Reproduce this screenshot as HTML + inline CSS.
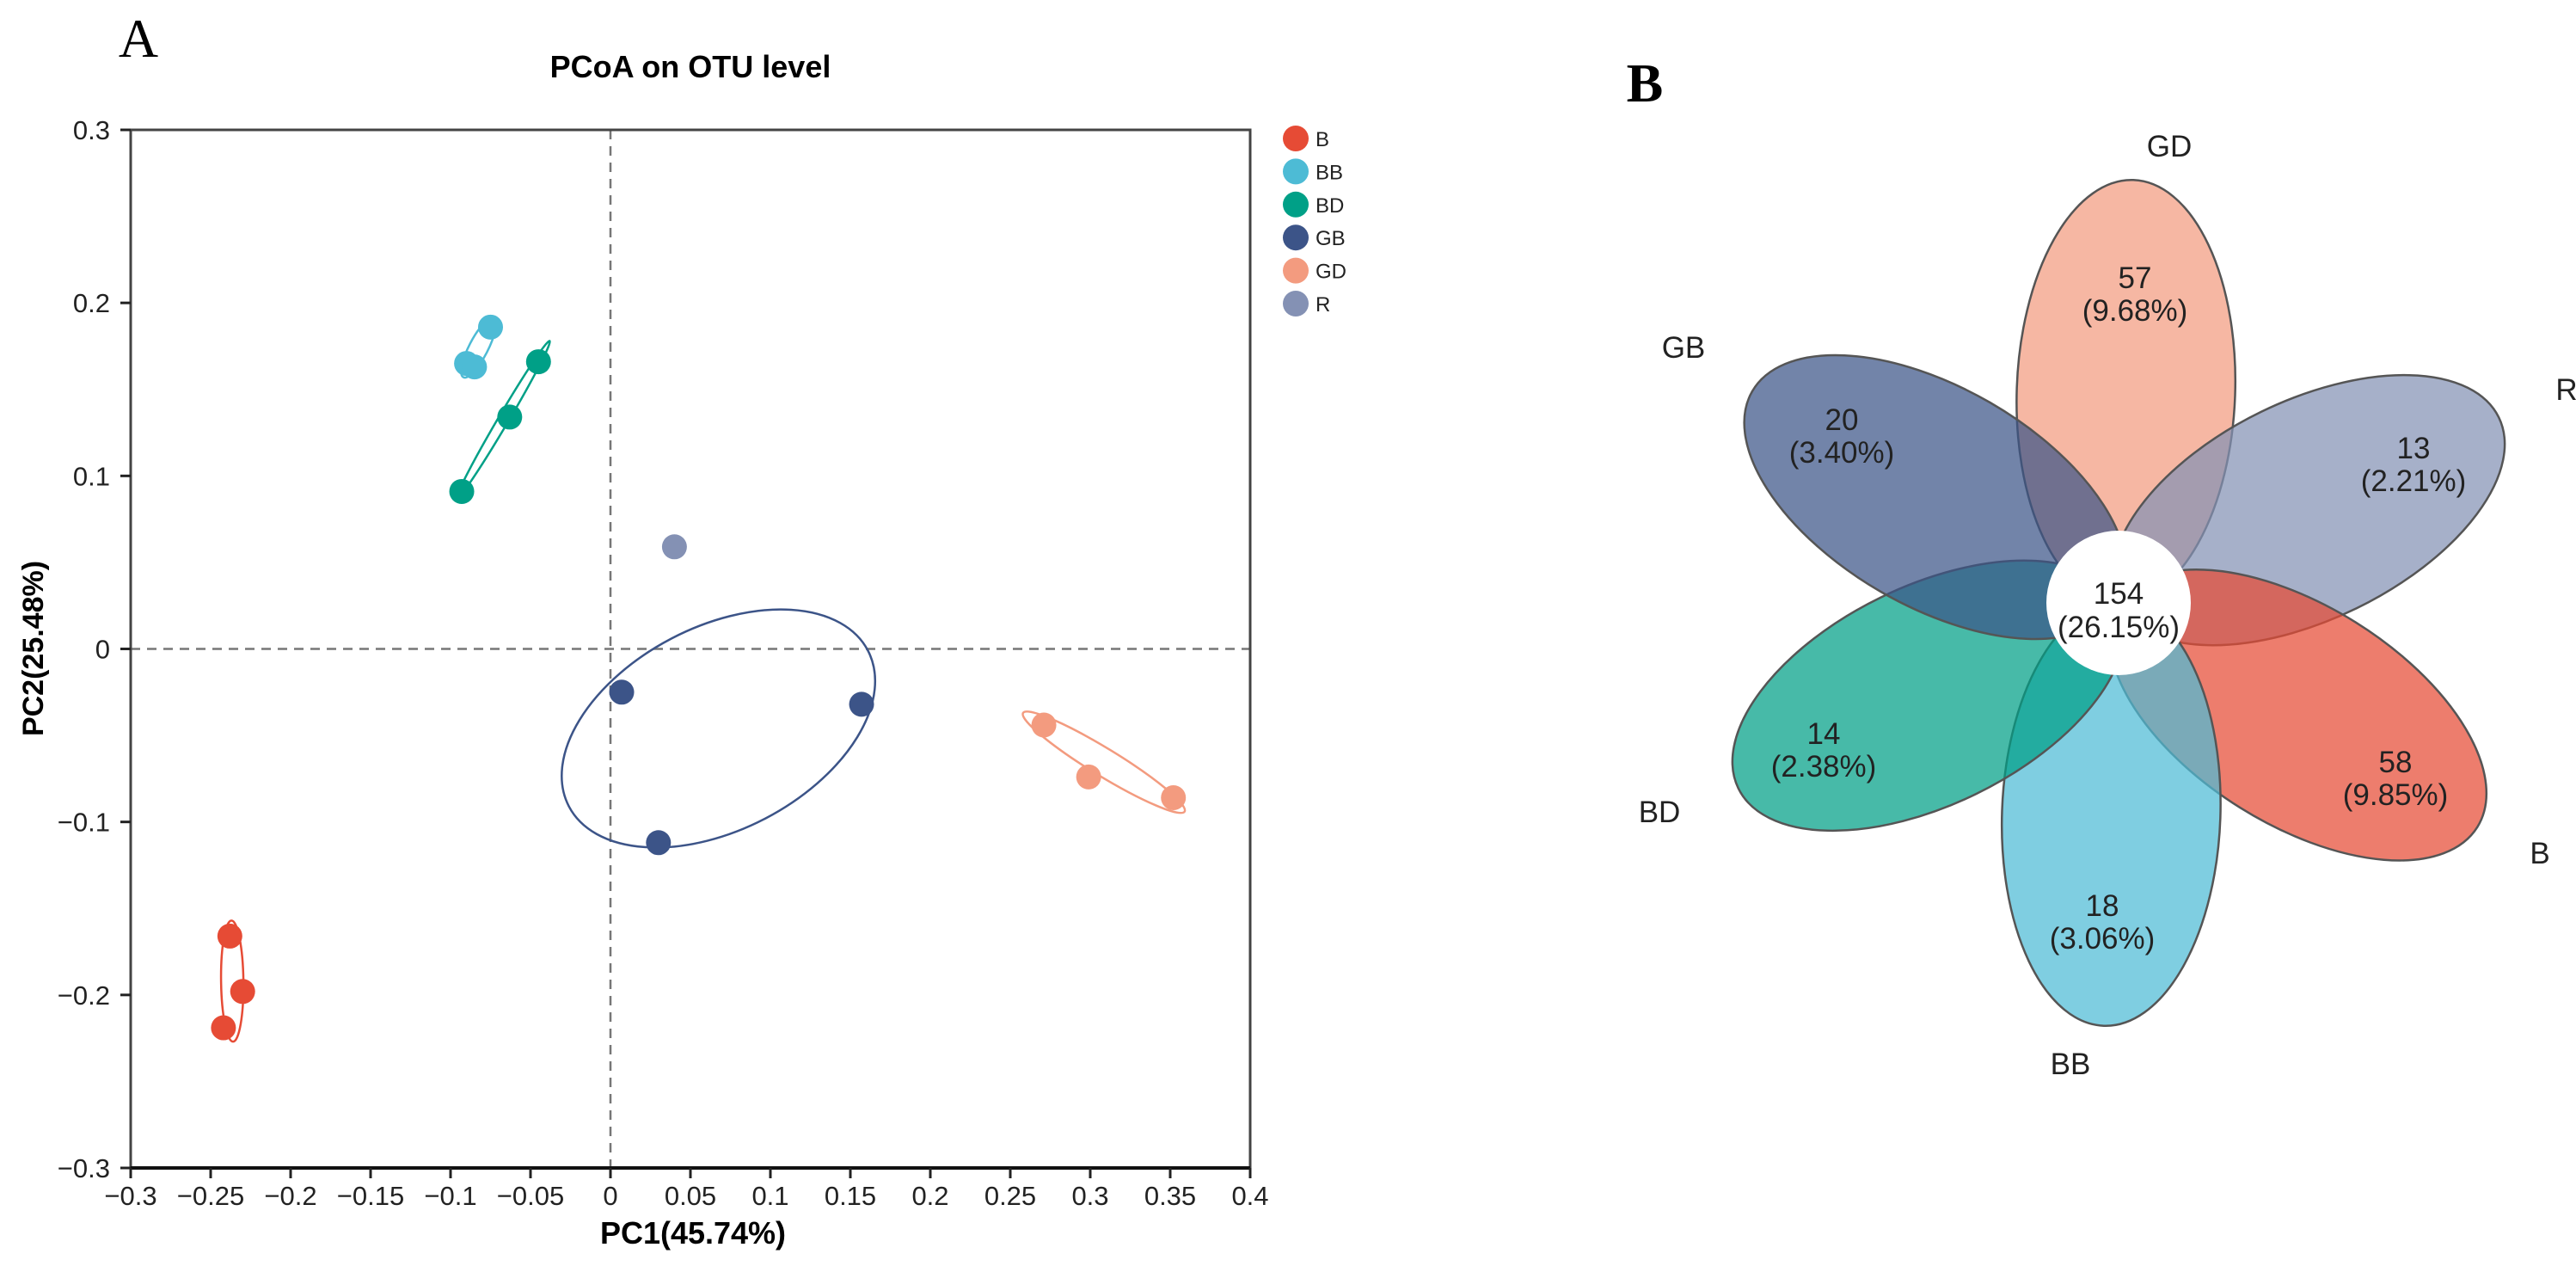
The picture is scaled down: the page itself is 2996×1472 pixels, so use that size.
<!DOCTYPE html>
<html><head><meta charset="utf-8"><style>
html,body{margin:0;padding:0;background:#fff;}
svg{display:block;}
text{font-family:"Liberation Sans",sans-serif;}
</style></head><body>
<svg id="fig" width="2996" height="1472" viewBox="0 0 2996 1472" xmlns="http://www.w3.org/2000/svg">
<text x="161" y="66" font-size="64" text-anchor="middle" style="font-family:'Liberation Serif',serif">A</text>
<text x="1913" y="118" font-size="64" text-anchor="middle" style="font-family:'Liberation Serif',serif;font-weight:bold">B</text>
<text x="803" y="90" font-size="36" font-weight="bold" text-anchor="middle">PCoA on OTU level</text>
<g id="plot"></g>
<g id="legend"></g>
<g id="venn"></g>
</svg>
<script>
const groups=["B","BB","BD","GB","GD","R"];
const colors=["#e64b35","#4dbbd5","#00a087","#3c5488","#f39b7f","#8491b4"];
const ptsX_B=[-0.238,-0.230,-0.242], ptsY_B=[-0.166,-0.198,-0.219];
const ptsX_BB=[-0.075,-0.090,-0.085], ptsY_BB=[0.186,0.165,0.163];
const ptsX_BD=[-0.045,-0.063,-0.093], ptsY_BD=[0.166,0.134,0.091];
const ptsX_GB=[0.007,0.157,0.030], ptsY_GB=[-0.025,-0.032,-0.112];
const ptsX_GD=[0.271,0.299,0.352], ptsY_GD=[-0.044,-0.074,-0.086];
const ptsX_R=[0.040], ptsY_R=[0.059];
// ellipse major-axis endpoints (data units)
const ellB=[-0.237,-0.157,-0.236,-0.227], ellBB=[-0.073,0.191,-0.092,0.157];
const ellBD=[-0.038,0.178,-0.096,0.087], ellGB=[-0.026,-0.091,0.161,-0.001];
const ellGD=[0.258,-0.037,0.359,-0.094];
const ellWidth=[13,11,6,118,16];
const xTicks=[-0.3,-0.25,-0.2,-0.15,-0.1,-0.05,0,0.05,0.1,0.15,0.2,0.25,0.3,0.35,0.4];
const xTickLabels=["−0.3","−0.25","−0.2","−0.15","−0.1","−0.05","0","0.05","0.1","0.15","0.2","0.25","0.3","0.35","0.4"];
const yTicks=[0.3,0.2,0.1,0,-0.1,-0.2,-0.3];
const yTickLabels=["0.3","0.2","0.1","0","−0.1","−0.2","−0.3"];
// venn
const vennCounts=["57","13","58","18","14","20"];
const vennPcts=["(9.68%)","(2.21%)","(9.85%)","(3.06%)","(2.38%)","(3.40%)"];
const vennNames=["GD","R","B","BB","BD","GB"];
const coreCount="154", corePct="(26.15%)";

const NS="http://www.w3.org/2000/svg";
const L=152,R=1454,T=151,B=1358;
const xs=v=>L+(v+0.3)/0.7*(R-L);
const ys=v=>B-(v+0.3)/0.6*(B-T);
function mk(tag,attrs,parent,txt){const e=document.createElementNS(NS,tag);for(const k in attrs)e.setAttribute(k,attrs[k]);if(txt!==undefined)e.textContent=txt;parent.appendChild(e);return e;}
const plot=document.getElementById('plot');
let e=mk('line',{x1:xs(0),x2:xs(0),y1:T,y2:B,stroke:'#777','stroke-width':2.5,'stroke-dasharray':'11 8'},plot);


e=mk('line',{x1:L,x2:R,y1:ys(0),y2:ys(0),stroke:'#777','stroke-width':2.5,'stroke-dasharray':'11 8'},plot);


e=mk('rect',{x:L,y:T,width:R-L,height:B-T,fill:'none',stroke:'#444','stroke-width':3},plot);


e=mk('line',{x1:L,x2:R,y1:B,y2:B,stroke:'#111','stroke-width':4},plot);


xTicks.forEach((v,i)=>{
 const t=mk('line',{x1:xs(v),x2:xs(v),y1:B,y2:B+12,stroke:'#222','stroke-width':3},plot);
 
 
 const l=mk('text',{x:xs(v),y:1401,'font-size':31,'text-anchor':'middle',style:"font-family:'Liberation Sans Narrow','Liberation Sans',sans-serif",fill:'#222'},plot,xTickLabels[i]);
 
 
});
yTicks.forEach((v,i)=>{
 const t=mk('line',{x1:L-12,x2:L,y1:ys(v),y2:ys(v),stroke:'#222','stroke-width':3},plot);
 
 
 const l=mk('text',{x:128,y:ys(v)+11,'font-size':31,'text-anchor':'end',style:"font-family:'Liberation Sans Narrow','Liberation Sans',sans-serif",fill:'#222'},plot,yTickLabels[i]);
 
 
});
e=mk('text',{x:806,y:1446,'font-size':36,'font-weight':'bold','text-anchor':'middle'},plot,'PC1(45.74%)');


e=mk('text',{x:0,y:0,'font-size':34,'font-weight':'bold','text-anchor':'middle',transform:'translate(50,754) rotate(-90)'},plot,'PC2(25.48%)');


const ells=[ellB,ellBB,ellBD,ellGB,ellGD];
ells.forEach((a,i)=>{
 const x1=xs(a[0]),y1=ys(a[1]),x2=xs(a[2]),y2=ys(a[3]);
 const cx=(x1+x2)/2,cy=(y1+y2)/2,rx=Math.hypot(x2-x1,y2-y1)/2;
 const ang=Math.atan2(y2-y1,x2-x1)*180/Math.PI;
 const el=mk('ellipse',{cx:cx,cy:cy,rx:rx,ry:ellWidth[i],fill:'none',stroke:colors[i],'stroke-width':2.5,transform:`rotate(${ang} ${cx} ${cy})`},plot);
 
 
});
const PX=[ptsX_B,ptsX_BB,ptsX_BD,ptsX_GB,ptsX_GD,ptsX_R],PY=[ptsY_B,ptsY_BB,ptsY_BD,ptsY_GB,ptsY_GD,ptsY_R];
PX.forEach((arr,g)=>arr.forEach((v,j)=>{
 const c=mk('circle',{cx:xs(v),cy:ys(PY[g][j]),r:14.5,fill:colors[g]},plot);
 
 
}));
const lg=document.getElementById('legend');
groups.forEach((g,i)=>{
 const c=mk('circle',{cx:1507,cy:161+i*38.4,r:15,fill:colors[i]},lg);
 
 
 const t=mk('text',{x:1530,y:161+i*38.4+9,'font-size':24,fill:'#222'},lg,g);
 
 
});
const vg=document.getElementById('venn');
const VC=[2464,701];
const petalAng=[-88,-26,32,92,154,210];
const petalCol=["#f39b7f","#8491b4","#e64b35","#4dbbd5","#00a087","#3c5488"];
const cntPos=[[2483,323],[2807,521],[2786,886],[2445,1053],[2121,853],[2142,488]];
const namePos=[[2523,170],[2985,453],[2954,992],[2408,1237],[1930,944],[1958,404]];
petalAng.forEach((a,i)=>{
 const r=a*Math.PI/180,cx=VC[0]+246*Math.cos(r),cy=VC[1]+246*Math.sin(r);
 const p=mk('ellipse',{cx:cx,cy:cy,rx:246,ry:127,fill:petalCol[i],'fill-opacity':0.72,stroke:'#555','stroke-width':2.5,transform:`rotate(${a} ${cx} ${cy})`},vg);
 
 
});
e=mk('circle',{cx:VC[0],cy:VC[1],r:84,fill:'#fff'},vg);


vennNames.forEach((n,i)=>{
 let t=mk('text',{x:cntPos[i][0],y:cntPos[i][1]+12,'font-size':35,'text-anchor':'middle',fill:'#222'},vg,vennCounts[i]);
 
 
 t=mk('text',{x:cntPos[i][0],y:cntPos[i][1]+50,'font-size':35,'text-anchor':'middle',fill:'#222'},vg,vennPcts[i]);
 
 
 t=mk('text',{x:namePos[i][0],y:namePos[i][1]+12,'font-size':35,'text-anchor':'middle',fill:'#222'},vg,n);
 
 
});
e=mk('text',{x:VC[0],y:702,'font-size':35,'text-anchor':'middle',fill:'#222'},vg,coreCount);


e=mk('text',{x:VC[0],y:741,'font-size':35,'text-anchor':'middle',fill:'#222'},vg,corePct);


</script>
</body></html>
